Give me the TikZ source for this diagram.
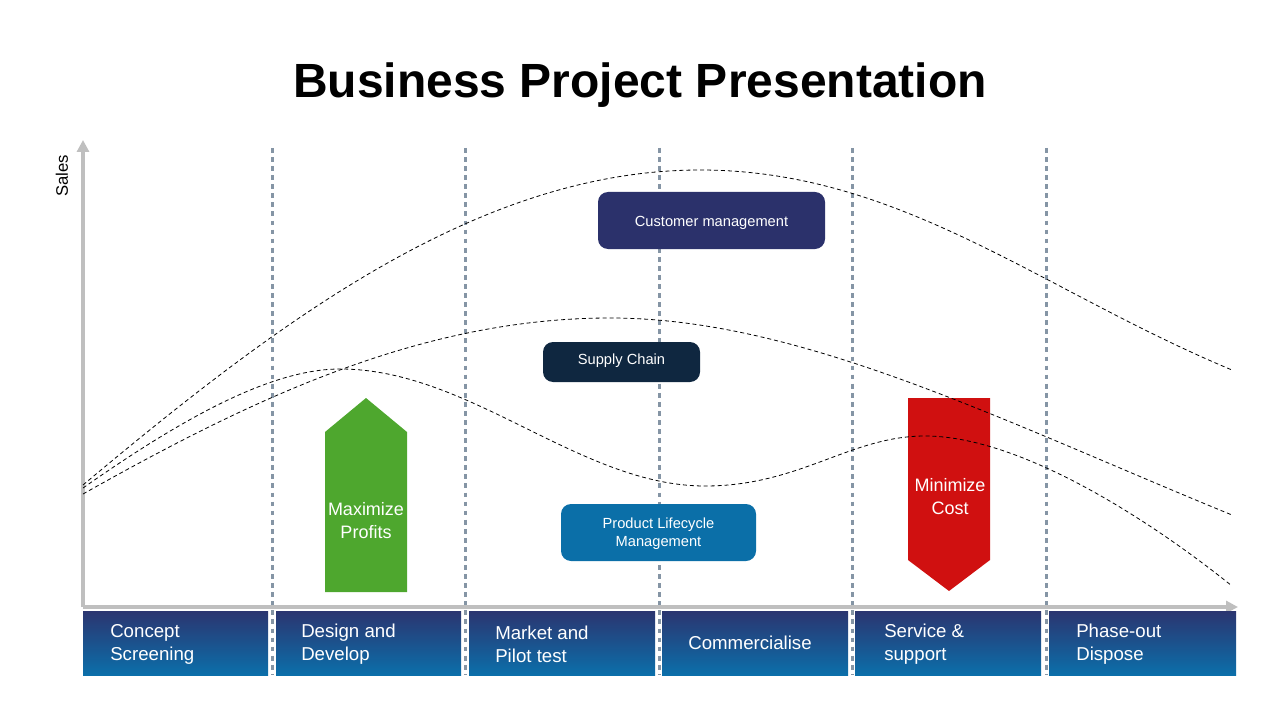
\documentclass[tikz,border=0pt]{standalone}
\usepackage{fontspec}
\setmainfont{Liberation Sans}
\usetikzlibrary{arrows.meta}
\definecolor{boxtop}{HTML}{2B3570}
\definecolor{boxbot}{HTML}{0B6FAA}
\definecolor{custc}{HTML}{2B316B}
\definecolor{supc}{HTML}{0F2740}
\definecolor{plmc}{HTML}{0B6FA8}
\definecolor{greenc}{HTML}{4EA72E}
\definecolor{redc}{HTML}{D01010}
\definecolor{vline}{HTML}{8595A5}
\definecolor{axisc}{HTML}{BFBFBF}
\tikzset{
  phasebox/.style={top color=boxtop, bottom color=boxbot, draw=none},
  phasetxt/.style={text=white, font=\fontsize{14}{17.25}\selectfont, align=left, anchor=west, inner sep=0pt},
  sepline/.style={draw=vline, line width=2.25pt, dash pattern=on 3.6pt off 3.2pt},
  curve/.style={draw=black, line width=0.6pt, dash pattern=on 3pt off 2.2pt},
  axisline/.style={draw=axisc, line width=3pt, -{Triangle[length=9pt,width=9pt]}},
  pill/.style={rounded corners=7.5pt, draw=none},
  pilltxt/.style={text=white, font=\fontsize{11}{13.5}\selectfont, align=center, inner sep=0pt},
  arrtxt/.style={text=white, font=\fontsize{13.5}{17.25}\selectfont, align=center, inner sep=0pt}
}
\begin{document}
\begin{tikzpicture}[x=0.75pt,y=-0.75pt]
\useasboundingbox (0,0) rectangle (1280,720);
% title
\node[font=\fontsize{36}{42}\selectfont\bfseries] (title) at (640,85) {Business Project Presentation};
% separator lines
\foreach \x/\n in {272/a,465/b,659/c,852/d,1046/e}{
  \coordinate (top\n) at (\x,148);
  \coordinate (bot\n) at (\x,675);
  \draw[sepline] (top\n) -- (bot\n);
}
% axes
\coordinate (origin) at (83,607);
\coordinate (yend) at (83,140);
\coordinate (xend) at (1238,607);
\draw[axisline] (origin) -- (yend);
\draw[axisline] (origin) -- (xend);
\node[rotate=90, font=\fontsize{12.5}{14}\selectfont] (sales) at (62,176) {Sales};
% phase boxes
\path[phasebox] (83,611) rectangle (268,675);
\path[phasebox] (276,611) rectangle (461,675);
\path[phasebox] (469,611) rectangle (655,675);
\path[phasebox] (662,611) rectangle (848,675);
\path[phasebox] (855,611) rectangle (1041,675);
\path[phasebox] (1049,611) rectangle (1236,675);
\node[phasetxt] (p1) at (110,644) {Concept\\Screening};
\node[phasetxt] (p2) at (301,644) {Design and\\Develop};
\node[phasetxt] (p3) at (495,644) {Market and\\Pilot test};
\node[phasetxt, anchor=center] (p4) at (750,643) {Commercialise};
\node[phasetxt] (p5) at (884,644) {Service \&\\support};
\node[phasetxt] (p6) at (1076,644) {Phase-out\\Dispose};
% pills
\path[pill, fill=custc] (598,192) rectangle (825,249);
\node[pilltxt] (cust) at (711.5,222.5) {Customer management};
\path[pill, fill=supc] (543,342) rectangle (700,382);
\node[pilltxt] (sup) at (621.5,360.5) {Supply Chain};
\path[pill, fill=plmc] (561,504) rectangle (756,561);
\node[pilltxt] (plm) at (658.5,533.5) {Product Lifecycle\\Management};
% green arrow
\fill[greenc] (325,592) -- (325,432) -- (366,398) -- (407,432) -- (407,592) -- cycle;
\node[arrtxt] (maxp) at (366,521) {Maximize\\Profits};
% red arrow
\fill[redc] (908,398) -- (990,398) -- (990,560) -- (949,591) -- (908,560) -- cycle;
\node[arrtxt] (minc) at (950,497) {Minimize\\Cost};
% curves
\draw[curve] (83,485) .. controls (280,320) and (480,170) .. (700,170)
  .. controls (900,170) and (1040,290) .. (1232,370);
\draw[curve] (83,494) .. controls (250,400) and (420,318) .. (610,318)
  .. controls (800,318) and (1000,420) .. (1232,515);
\draw[curve] (83,488) .. controls (180,420) and (270,369) .. (340,369)
  .. controls (470,369) and (580,486) .. (705,486)
  .. controls (800,486) and (850,436) .. (925,436)
  .. controls (1020,436) and (1150,520) .. (1232,586);
\end{tikzpicture}
\end{document}
